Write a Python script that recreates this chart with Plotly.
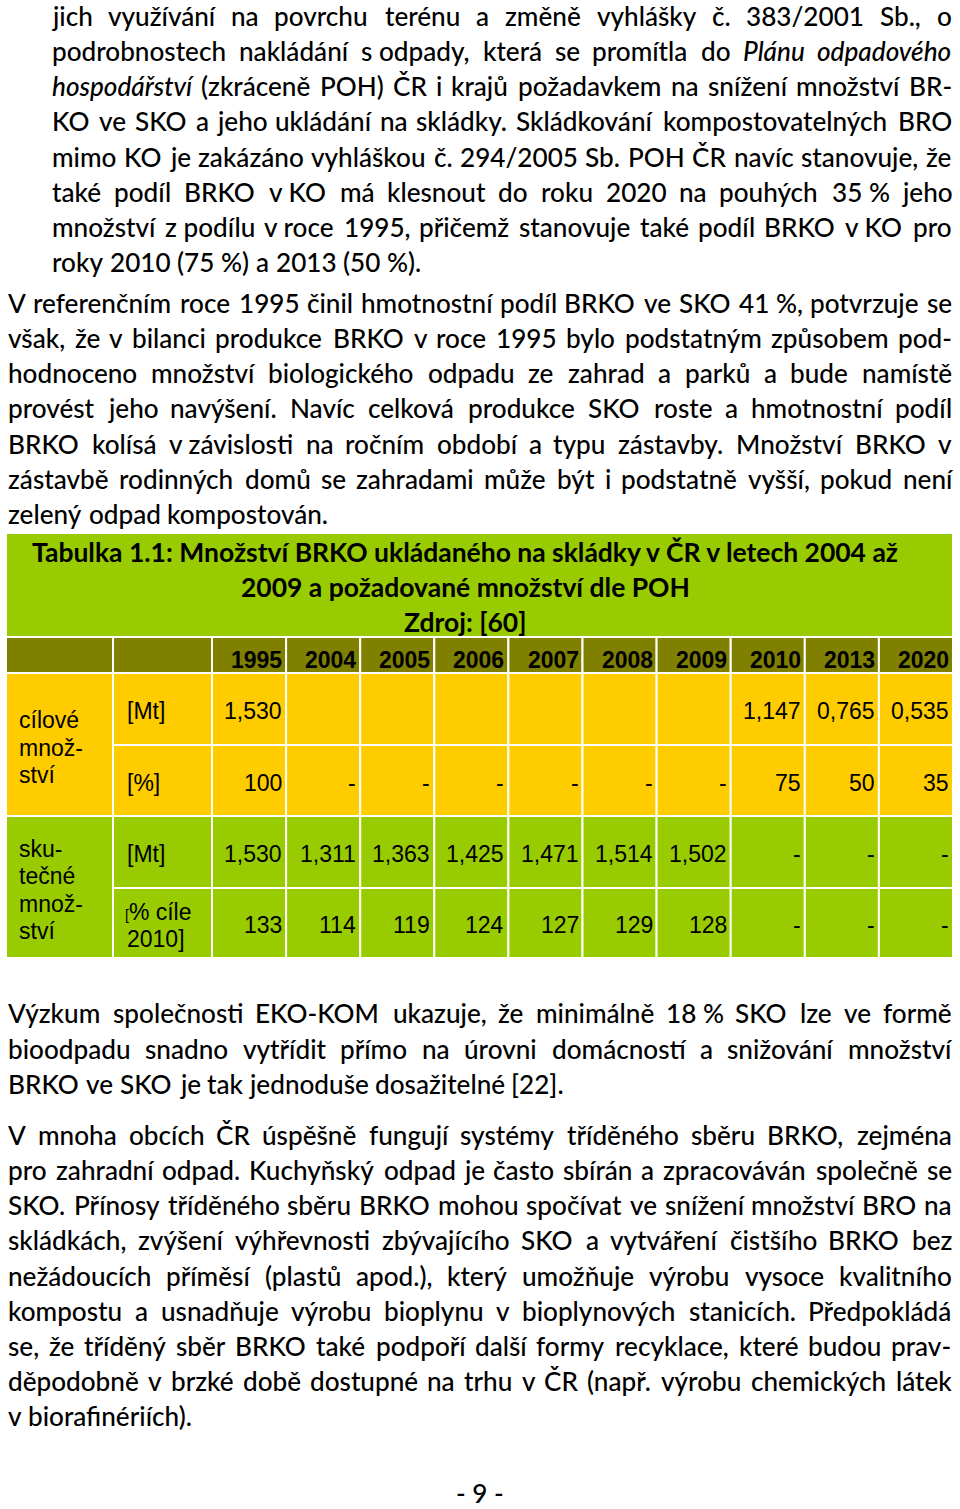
import glob
import os
import struct
import plotly.graph_objects as go

# ---------------------------------------------------------------- data
years = ["1995", "2004", "2005", "2006", "2007", "2008", "2009", "2010", "2013", "2020"]
target_mt = [1.530, None, None, None, None, None, None, 1.147, 0.765, 0.535]
target_pct = [100, None, None, None, None, None, None, 75, 50, 35]
actual_mt = [1.530, 1.311, 1.363, 1.425, 1.471, 1.514, 1.502, None, None, None]
actual_pct = [133, 114, 119, 124, 127, 129, 128, None, None, None]

group_labels = [["cílové", "množ-", "ství"], ["sku-", "tečné", "množ-", "ství"]]
unit_labels = [["[Mt]"], ["[%]"], ["[Mt]"], ["[% cíle", "2010]"]]

table_title = [
    "Tabulka 1.1: Množství BRKO ukládaného na skládky v ČR v letech 2004 až",
    "2009 a požadované množství dle POH",
    "Zdroj: [60]",
]

NB = "\u00a0"
paragraph_1 = [
    "jich využívání na povrchu terénu a změně vyhlášky č. 383/2001 Sb., o",
    f"podrobnostech nakládání s{NB}odpady, která se promítla do _Plánu_ _odpadového_",
    "_hospodářství_ (zkráceně POH) ČR i krajů požadavkem na snížení množství BR-",
    "KO ve SKO a jeho ukládání na skládky. Skládkování kompostovatelných BRO",
    "mimo KO je zakázáno vyhláškou č. 294/2005 Sb. POH ČR navíc stanovuje, že",
    f"také podíl BRKO v{NB}KO má klesnout do roku 2020 na pouhých 35{NB}% jeho",
    f"množství z{NB}podílu v{NB}roce 1995, přičemž stanovuje také podíl BRKO v{NB}KO pro",
    f"roky 2010 (75{NB}%) a 2013 (50{NB}%).",
]
paragraph_2 = [
    f"V referenčním roce 1995 činil hmotnostní podíl BRKO ve SKO 41{NB}%, potvrzuje se",
    "však, že v bilanci produkce BRKO v roce 1995 bylo podstatným způsobem pod-",
    "hodnoceno množství biologického odpadu ze zahrad a parků a bude namístě",
    "provést jeho navýšení. Navíc celková produkce SKO roste a hmotnostní podíl",
    f"BRKO kolísá v{NB}závislosti na ročním období a typu zástavby. Množství BRKO v",
    "zástavbě rodinných domů se zahradami může být i podstatně vyšší, pokud není",
    "zelený odpad kompostován.",
]
paragraph_3 = [
    f"Výzkum společnosti EKO-KOM ukazuje, že minimálně 18{NB}% SKO lze ve formě",
    "bioodpadu snadno vytřídit přímo na úrovni domácností a snižování množství",
    "BRKO ve SKO je tak jednoduše dosažitelné [22].",
]
paragraph_4 = [
    "V mnoha obcích ČR úspěšně fungují systémy tříděného sběru BRKO, zejména",
    "pro zahradní odpad. Kuchyňský odpad je často sbírán a zpracováván společně se",
    "SKO. Přínosy tříděného sběru BRKO mohou spočívat ve snížení množství BRO na",
    "skládkách, zvýšení výhřevnosti zbývajícího SKO a vytváření čistšího BRKO bez",
    "nežádoucích příměsí (plastů apod.), který umožňuje výrobu vysoce kvalitního",
    "kompostu a usnadňuje výrobu bioplynu v bioplynových stanicích. Předpokládá",
    "se, že tříděný sběr BRKO také podpoří další formy recyklace, které budou prav-",
    "děpodobně v brzké době dostupné na trhu v ČR (např. výrobu chemických látek",
    "v biorafinériích).",
]
page_number = "- 9 -"

# ---------------------------------------------------------------- font metrics
def find_font(names):
    dirs = ["/usr/share/fonts", "/usr/local/share/fonts",
            os.path.expanduser("~/.fonts"), os.path.expanduser("~/.local/share/fonts")]
    for n in names:
        for d in dirs:
            hits = glob.glob(os.path.join(d, "**", n), recursive=True)
            if hits:
                return hits[0]
    return None


class Metrics:
    def __init__(self, path, asc=0.987, desc=0.213):
        self.ok = False
        self.asc, self.desc = asc, desc
        self.cache = {}
        if path:
            try:
                self._load(path)
                self.ok = True
            except Exception:
                self.ok = False
        self.mid = (self.asc - self.desc) / 2.0

    def _load(self, path):
        with open(path, "rb") as f:
            d = f.read()
        self.d = d
        nt = struct.unpack(">H", d[4:6])[0]
        tb = {}
        for i in range(nt):
            tag, _, off, ln = struct.unpack(">4sIII", d[12 + 16 * i:28 + 16 * i])
            tb[tag.decode("latin1")] = off
        o = tb["head"]
        self.upem = struct.unpack(">H", d[o + 18:o + 20])[0]
        o = tb["hhea"]
        a, de = struct.unpack(">hh", d[o + 4:o + 8])
        self.asc, self.desc = a / self.upem, -de / self.upem
        nhm = struct.unpack(">H", d[o + 34:o + 36])[0]
        o = tb["hmtx"]
        self.adv = [struct.unpack(">H", d[o + 4 * i:o + 4 * i + 2])[0] for i in range(nhm)]
        o = tb["cmap"]
        n = struct.unpack(">H", d[o + 2:o + 4])[0]
        recs = {}
        for i in range(n):
            pid, eid, so = struct.unpack(">HHI", d[o + 4 + 8 * i:o + 12 + 8 * i])
            sub = o + so
            fmt = struct.unpack(">H", d[sub:sub + 2])[0]
            recs[(pid, eid, fmt)] = sub
        self.fmt = None
        for key in [(3, 10, 12), (0, 4, 12), (3, 1, 4), (0, 3, 4), (0, 1, 4), (0, 0, 4)]:
            if key in recs:
                self.fmt, self.sub = key[2], recs[key]
                break
        if self.fmt is None:
            raise ValueError("no cmap")
        sub = self.sub
        if self.fmt == 4:
            sx2 = struct.unpack(">H", d[sub + 6:sub + 8])[0]
            s = sx2 // 2
            self.ends = struct.unpack(">%dH" % s, d[sub + 14:sub + 14 + sx2])
            self.starts = struct.unpack(">%dH" % s, d[sub + 16 + sx2:sub + 16 + 2 * sx2])
            self.deltas = struct.unpack(">%dh" % s, d[sub + 16 + 2 * sx2:sub + 16 + 3 * sx2])
            self.rpos = sub + 16 + 3 * sx2
            self.roffs = struct.unpack(">%dH" % s, d[self.rpos:self.rpos + sx2])
        else:
            ng = struct.unpack(">I", d[sub + 12:sub + 16])[0]
            self.groups = [struct.unpack(">III", d[sub + 16 + 12 * k:sub + 28 + 12 * k]) for k in range(ng)]

    def glyph(self, c):
        d = self.d
        if self.fmt == 4:
            for k in range(len(self.ends)):
                if self.ends[k] >= c:
                    if self.starts[k] > c:
                        return 0
                    if self.roffs[k] == 0:
                        return (c + self.deltas[k]) & 0xFFFF
                    addr = self.rpos + 2 * k + self.roffs[k] + 2 * (c - self.starts[k])
                    g = struct.unpack(">H", d[addr:addr + 2])[0]
                    return (g + self.deltas[k]) & 0xFFFF if g else 0
            return 0
        for s, e, g0 in self.groups:
            if s <= c <= e:
                return g0 + c - s
        return 0

    def width(self, text, size):
        if not self.ok:
            return len(text) * 0.5 * size
        tot = 0
        for ch in text:
            if ch not in self.cache:
                g = self.glyph(ord(ch))
                self.cache[ch] = self.adv[g] if g < len(self.adv) else self.adv[-1]
            tot += self.cache[ch]
        return tot * size / self.upem


# body text: Lato Medium when installed (closer to the darker Calibri look), else Regular
BODY_WEIGHT = 500
m_reg = Metrics(find_font(["Lato-Medium.ttf", "Lato-Medium.otf"]))
if not m_reg.ok:
    BODY_WEIGHT = 400
    m_reg = Metrics(find_font(["Lato-Regular.ttf", "Lato-Regular.otf"]))
m_ital = Metrics(find_font(["Lato-MediumItalic.ttf", "Lato-MediumItalic.otf"] if BODY_WEIGHT == 500
                           else ["Lato-Italic.ttf", "Lato-Italic.otf"]))
if not m_ital.ok:
    m_ital = m_reg
m_bold = Metrics(find_font(["Lato-Bold.ttf", "Lato-Bold.otf"]))
if not m_bold.ok:
    m_bold = m_reg

BODY_FONT = "Lato, Carlito, Calibri, sans-serif"
CELL_FONT = "Liberation Sans, Arial, sans-serif"

# ---------------------------------------------------------------- page layout
PAGE_W, PAGE_H = 960, 1509
RIGHT = 952
PITCH = 35.2
paragraphs = [(paragraph_1, 52, 26.0), (paragraph_2, 8, 313.0),
              (paragraph_3, 8, 1023.5), (paragraph_4, 8, 1145.0)]


def tokens(line):
    out = []
    for t in line.split(" "):
        ital = len(t) > 2 and t.startswith("_") and t.endswith("_")
        out.append((t.strip("_") if ital else t, ital))
    return out


def unit_width(tok_list, size):
    return sum((m_ital if it else m_reg).width(w, size) for w, it in tok_list)


# body font size fitted to the unjustified last lines
last_targets = {"roky 2010": 421 - 52, "zelený odpad": 336 - 8,
                "BRKO ve SKO je tak": 562 - 8, "v biorafinériích": 193 - 8}
sizes = []
for para, x0, _ in paragraphs:
    ln = para[-1]
    for key, tw in last_targets.items():
        if ln.startswith(key):
            tk = tokens(ln)
            w1 = unit_width(tk, 1.0) + m_reg.width(" ", 1.0) * (len(tk) - 1)
            sizes.append(tw / w1)
sizes.sort()
body_size = sizes[len(sizes) // 2] if sizes else 22.0
for para, x0, _ in paragraphs:
    for ln in para[:-1]:
        tk = tokens(ln)
        w1 = unit_width(tk, 1.0) + 0.12 * (len(tk) - 1)
        body_size = min(body_size, (RIGHT - x0) / w1)
if not m_reg.ok:
    body_size = 22.0

annotations = []


def add_text(text, x, y, size, family=BODY_FONT, xanchor="left", weight=400):
    annotations.append(dict(text=text, x=x, y=y, xref="x", yref="y", showarrow=False,
                            xanchor=xanchor, yanchor="middle", borderpad=0, borderwidth=0,
                            font=dict(family=family, size=size, color="#000000", weight=weight)))


for para, x0, base0 in paragraphs:
    for i, ln in enumerate(para):
        baseline = base0 + i * PITCH
        yc = baseline - m_reg.mid * body_size
        justify = i < len(para) - 1
        tk = tokens(ln)
        if not m_reg.ok:
            add_text(ln.replace("_", ""), x0, yc, body_size, weight=BODY_WEIGHT)
            continue
        widths = [(m_ital if it else m_reg).width(w, body_size) for w, it in tk]
        gap = m_reg.width(" ", body_size)
        if justify and len(tk) > 1:
            gap = (RIGHT - x0 - sum(widths)) / (len(tk) - 1)
        x = x0
        for (w, it), wd in zip(tk, widths):
            add_text(f"<i>{w}</i>" if it else w, x, yc, body_size, weight=BODY_WEIGHT)
            x += wd + gap

# page number
add_text(page_number, 480, 1503 - m_reg.mid * body_size, body_size, xanchor="center",
         weight=BODY_WEIGHT)

# ---------------------------------------------------------------- table
GREEN, YELLOW, OLIVE = "#99CC00", "#FFCC00", "#808000"
TX0, TX1 = 6, 953
COL0, COL1, COL2 = 6, 113, 212
col_w = (TX1 - COL2) / len(years)
ycols = [COL2 + i * col_w for i in range(len(years) + 1)]
row_edges = [533, 637, 673, 745, 816, 888, 958]
row_fill = [YELLOW, YELLOW, GREEN, GREEN]
shapes = []


def rect(x0, x1, y0, y1, fill):
    shapes.append(dict(type="rect", xref="x", yref="y", x0=x0, x1=x1, y0=y0, y1=y1,
                       fillcolor=fill, line=dict(color="#FFFFFF", width=2), layer="below"))


# title block
rect(TX0, TX1, row_edges[0], row_edges[1], GREEN)
title_size = 25.0
if m_bold.ok:
    title_size = (902 - 28) / m_bold.width(table_title[0], 1.0)
for i, t in enumerate(table_title):
    add_text(f"<b>{t}</b>", 465, 562 + i * 35 - m_bold.mid * title_size, title_size,
             family=BODY_FONT, xanchor="center")

# header row
CELL_SIZE = 23
rect(COL0, COL1, row_edges[1], row_edges[2], OLIVE)
rect(COL1, COL2, row_edges[1], row_edges[2], OLIVE)
for j, yr in enumerate(years):
    rect(ycols[j], ycols[j + 1], row_edges[1], row_edges[2], OLIVE)
    add_text(f"<b>{yr}</b>", ycols[j + 1] - 4, 659.5, CELL_SIZE, family=CELL_FONT, xanchor="right")


def fmt_mt(v):
    return f"{v:.3f}".replace(".", ",")


def fmt_pct(v):
    return f"{v:d}"


body_rows = [(target_mt, fmt_mt, ""), (target_pct, fmt_pct, "-"),
             (actual_mt, fmt_mt, "-"), (actual_pct, fmt_pct, "-")]
for r, (vals, fmt, missing) in enumerate(body_rows):
    y0, y1 = row_edges[r + 2], row_edges[r + 3]
    yc = (y0 + y1) / 2 + 2
    rect(COL1, COL2, y0, y1, row_fill[r])
    lab = unit_labels[r]
    if len(lab) == 1:
        add_text(lab[0], 127, yc, CELL_SIZE, family=CELL_FONT)
    else:
        first = lab[0]
        if first.startswith("["):
            first = '<span style="font-size:14px">[</span>' + first[1:]
        add_text(first, 125, yc - 13.5, CELL_SIZE, family=CELL_FONT)
        add_text(lab[1], 127, yc + 13.5, CELL_SIZE, family=CELL_FONT)
    for j, v in enumerate(vals):
        rect(ycols[j], ycols[j + 1], y0, y1, row_fill[r])
        txt = fmt(v) if v is not None else missing
        if txt:
            add_text(txt, ycols[j + 1] - 4, yc, CELL_SIZE, family=CELL_FONT, xanchor="right")

# merged group label cells
for g, lines in enumerate(group_labels):
    y0, y1 = row_edges[2 + 2 * g], row_edges[4 + 2 * g]
    rect(COL0, COL1, y0, y1, row_fill[2 * g])
    gc = (y0 + y1) / 2 + 3
    n = len(lines)
    for i, t in enumerate(lines):
        add_text(t, 19, gc + (i - (n - 1) / 2) * 27.5, CELL_SIZE, family=CELL_FONT)

# ---------------------------------------------------------------- figure
fig = go.Figure(go.Scatter(x=[], y=[], hoverinfo="skip", showlegend=False))
fig.update_layout(
    width=PAGE_W, height=PAGE_H,
    margin=dict(l=0, r=0, t=0, b=0),
    paper_bgcolor="#FFFFFF", plot_bgcolor="#FFFFFF",
    xaxis=dict(range=[0, PAGE_W], visible=False, fixedrange=True),
    yaxis=dict(range=[PAGE_H, 0], visible=False, fixedrange=True),
    shapes=shapes, annotations=annotations, showlegend=False,
)
# let the page start at the window's top-left corner (no default body margin)
fig.write_html("out.html",
               config={"displayModeBar": False, "staticPlot": True},
               post_script="document.body.style.margin='0';document.body.style.overflow='hidden';")
